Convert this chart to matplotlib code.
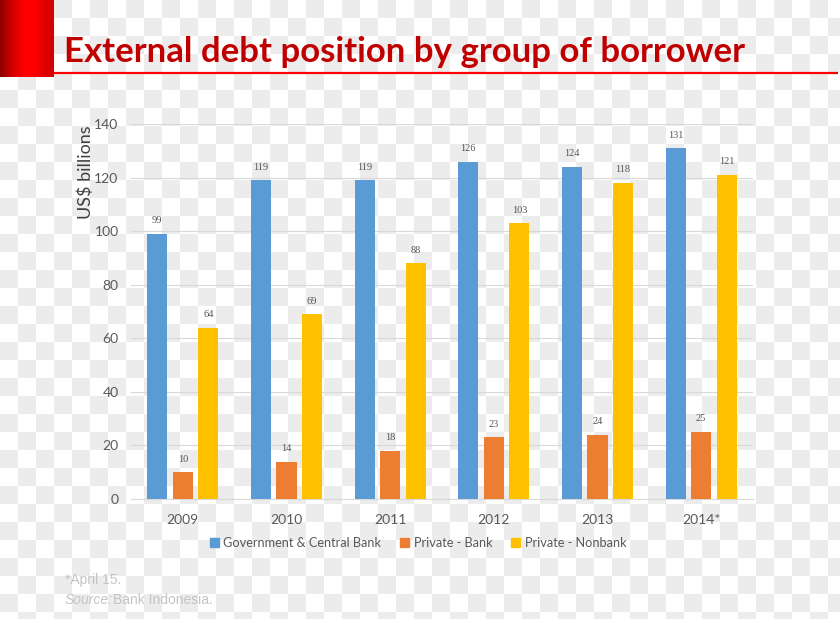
import matplotlib
matplotlib.use("Agg")
import matplotlib.pyplot as plt
from matplotlib.patches import Patch
import numpy as np

years = ["2009", "2010", "2011", "2012", "2013", "2014*"]
gov = [99, 119, 119, 126, 124, 131]
bank = [10, 14, 18, 23, 24, 25]
nonbank = [64, 69, 88, 103, 118, 121]
series_names = ["Government & Central Bank", "Private - Bank", "Private - Nonbank"]
colors = ["#5b9bd5", "#ed7d31", "#ffc000"]

plt.rcParams["font.family"] = ["Lato", "DejaVu Sans"]

W, H = 840, 619
fig = plt.figure(figsize=(W / 100, H / 100), dpi=100)

# checkered background
yy, xx = np.mgrid[0:H, 0:W]
chk = ((yy // 18 + xx // 18) % 2).astype(float)
bgimg = np.ones((H, W, 3))
bgimg[chk == 1] = 236 / 255
bg = fig.add_axes([0, 0, 1, 1], zorder=-10)
bg.imshow(bgimg, extent=[0, W, H, 0], aspect="auto", interpolation="nearest")
bg.set_xlim(0, W)
bg.set_ylim(H, 0)
bg.axis("off")

# red gradient block + underline
g = np.linspace(0, 1, 60)
grad = np.zeros((1, 60, 3))
grad[0, :, 0] = np.clip(0.55 + 0.45 * np.sin(np.pi * g * 0.9), 0, 1)
grad[0, :, 0][g > 0.85] = 0.85
bar_ax = fig.add_axes([0, 1 - 77 / H, 54 / W, 77 / H], zorder=-5)
bar_ax.imshow(grad, aspect="auto", extent=[0, 1, 0, 1])
bar_ax.axis("off")
bg.plot([54, 838], [73, 73], color="#ff0000", lw=1.6, solid_capstyle="butt")

fig.text(64 / W, 1 - 62 / H, "External debt position by group of borrower",
         fontsize=25, fontweight="bold", color="#c00000", va="baseline", ha="left")

ax = fig.add_axes([131 / W, 1 - 499 / H, 622 / W, 375 / H])
ax.set_facecolor("none")
x = np.arange(len(years))
bw = 0.193
off = 0.246
for i, (vals, c) in enumerate(zip([gov, bank, nonbank], colors)):
    bars = ax.bar(x + (i - 1) * off, vals, bw, color=c, label=series_names[i], zorder=3)
    for b, v in zip(bars, vals):
        ax.text(b.get_x() + b.get_width() / 2, v + 3.2, str(v), ha="center", va="bottom",
                fontsize=7.5, color="#555555", family="Liberation Serif")

ax.set_xlim(-0.5, len(years) - 0.5)
ax.set_ylim(0, 140)
ax.set_yticks(range(0, 141, 20))
ax.grid(axis="y", color="#d9d9d9", lw=0.8, zorder=0)
for s in ["top", "right", "left"]:
    ax.spines[s].set_visible(False)
ax.spines["bottom"].set_color("#d9d9d9")
ax.tick_params(axis="both", length=0, labelsize=10, colors="#595959")
ax.tick_params(axis="y", pad=9)
ax.tick_params(axis="x", pad=11)
ax.set_xticks(x)
ax.set_xticklabels(years)

fig.text(86 / W, 1 - 172 / H, "US$ billions", rotation=90, fontsize=13,
         color="#404040", ha="center", va="center")

handles = [Patch(color=c, label=n) for c, n in zip(colors, series_names)]
fig.legend(handles=handles, loc="center", bbox_to_anchor=(418 / W, 1 - 543 / H),
           ncol=3, frameon=False, fontsize=9.2, labelcolor="#595959",
           handlelength=0.7, handleheight=0.7, handletextpad=0.35, columnspacing=1.5)

fig.text(65 / W, 1 - 584 / H, "*April 15.", fontsize=10, color="#c4c4c4",
         family="Liberation Sans")
fig.text(65 / W, 1 - 604 / H, "Source:", fontsize=10, color="#c4c4c4",
         family="Liberation Sans", style="italic")
fig.text(113 / W, 1 - 604 / H, "Bank Indonesia.", fontsize=10, color="#c4c4c4",
         family="Liberation Sans")

fig.savefig("out.png", dpi=100)
